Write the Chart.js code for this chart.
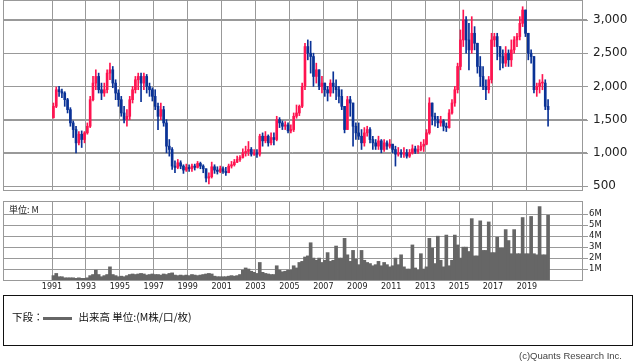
<!DOCTYPE html>
<html>
<head>
<meta charset="utf-8">
<script src="https://cdn.jsdelivr.net/npm/chart.js@4"></script>
<style>
  html, body { margin: 0; width: 638px; height: 362px; overflow: hidden; }
  body { background: #fff; position: relative; }
  canvas { position: absolute; left: 0; }
  #price { top: 0; }
  #volume { top: 196px; }
  #unit { position: absolute; left: 9px; top: 203px; font: 9px "Noto Sans CJK JP", sans-serif; color: #222; }
  #legend { position: absolute; left: 3px; top: 295px; width: 630px; height: 51px; border: 1px solid #111; box-sizing: border-box;
            font: 10.5px "Noto Sans CJK JP", sans-serif; color: #111; }
  #legend .row { position: absolute; left: 8px; top: 13px; white-space: nowrap; }
  #legend .swatch { display: inline-block; width: 29px; height: 3px; background: #666; vertical-align: middle; margin: 0 7px 0 -1px; }
  #credit { position: absolute; right: 16px; top: 350px; font: 9.5px/11px "Liberation Sans Narrow", "Liberation Sans", sans-serif; color: #444; }
</style>
</head>
<body>
<canvas id="price" width="638" height="191"></canvas>
<canvas id="volume" width="638" height="100"></canvas>
<div id="unit">単位: M</div>
<div id="legend"><div class="row">下段：<span class="swatch"></span>出来高 単位:(M株/口/枚)</div></div>
<div id="credit">(c)Quants Research Inc.</div>
<script>
// bimonthly bars, Jan 1991 .. Apr 2020
const firstYear = 1991;
const barsPerYear = 6;
const firstOpen = 1530;

const closes = [
  1700, 1950, 1920, 1900, 1800, 1650, 1450, 1350, 1150, 1280, 1200, 1300,
  1400, 1800, 2050, 2150, 1950, 1900, 1950, 2200, 2250, 2050, 1900, 1800,
  1600, 1500, 1550, 1800, 1950, 2100, 2150, 2050, 2150, 2000, 1950, 1850,
  1700, 1550, 1650, 1450, 1100, 1050, 800, 780, 850, 800, 740, 780,
  760, 800, 780, 840, 800, 760, 620, 640, 790, 740, 720, 760,
  720, 700, 800, 820, 860, 900, 930, 1000, 1020, 1050, 980, 1000,
  980, 1250, 1180, 1250, 1150, 1230, 1200, 1500, 1450, 1400, 1420, 1330,
  1350, 1550, 1600, 1700, 2000, 2600, 2500, 2450, 2150, 2250, 2000, 2050,
  1950, 1900, 2050, 2000, 1950, 1850, 1700, 1350, 1800, 1750, 1400, 1300,
  1250, 1150, 1300, 1350, 1200, 1150, 1100, 1180, 1050, 1150, 1100, 1130,
  1050, 980, 1000, 980, 1000, 950, 1000, 1060, 1020, 1050, 1100, 1130,
  1300, 1750, 1550, 1500, 1450, 1480, 1400, 1380, 1600, 1750, 1950, 2300,
  2700, 3000, 2700, 2550, 2800, 2650, 2300, 2150, 2000, 1950, 2100, 2700,
  2750, 2600, 2450, 2350, 2500, 2400, 2550, 2700, 2750, 2950, 3150, 2800,
  2500, 2450, 1950, 2000, 2050, 2050, 1700, 1650
];

const highs = [
  1750, 1990, 2000, 1960, 1920, 1820, 1680, 1480, 1400, 1320, 1330, 1320,
  1450, 1850, 2150, 2250, 2200, 2050, 2050, 2250, 2350, 2300, 2100, 1950,
  1850, 1700, 1650, 1850, 2000, 2150, 2200, 2200, 2200, 2180, 2050, 1980,
  1950, 1750, 1750, 1700, 1500, 1200, 1080, 880, 900, 880, 820, 830,
  820, 830, 830, 870, 860, 820, 760, 700, 860, 820, 790, 800,
  790, 780, 830, 870, 900, 950, 960, 1060, 1100, 1170, 1080, 1050,
  1050, 1280, 1300, 1320, 1270, 1300, 1300, 1550, 1530, 1480, 1470, 1450,
  1420, 1600, 1720, 1720, 2050, 2650, 2700, 2680, 2500, 2350, 2250, 2150,
  2050, 2000, 2100, 2220, 2100, 2000, 1950, 1700, 1850, 1850, 1750, 1450,
  1450, 1350, 1380, 1400, 1380, 1250, 1200, 1250, 1200, 1200, 1180, 1200,
  1130, 1100, 1080, 1050, 1080, 1050, 1050, 1120, 1100, 1110, 1160, 1200,
  1350, 1830, 1750, 1600, 1550, 1550, 1500, 1450, 1650, 1800, 2000, 2350,
  2850, 3150, 3050, 2950, 3050, 2900, 2650, 2450, 2300, 2100, 2150, 2800,
  2800, 2800, 2600, 2550, 2600, 2550, 2700, 2750, 2800, 3050, 3200, 3150,
  2800, 2550, 2450, 2050, 2100, 2180, 2100, 1800
];

const lows = [
  1520, 1680, 1850, 1830, 1700, 1600, 1400, 1230, 1000, 1120, 1080, 1150,
  1280, 1380, 1780, 1950, 1900, 1800, 1850, 1900, 2100, 1980, 1800, 1700,
  1550, 1450, 1400, 1500, 1750, 1900, 1950, 1770, 1950, 1900, 1850, 1780,
  1650, 1350, 1500, 1400, 1000, 950, 750, 700, 760, 760, 690, 720,
  720, 720, 740, 770, 760, 700, 560, 530, 620, 690, 680, 700,
  690, 660, 700, 770, 800, 850, 870, 920, 950, 960, 950, 960,
  930, 950, 1100, 1150, 1100, 1120, 1120, 1180, 1380, 1350, 1350, 1300,
  1300, 1320, 1520, 1560, 1680, 1950, 2400, 2200, 2000, 2050, 1950, 1900,
  1850, 1780, 1850, 1900, 1800, 1750, 1650, 1300, 1350, 1550, 1100, 1200,
  1200, 1050, 1100, 1250, 1150, 1050, 1050, 1050, 1000, 1020, 1050, 1070,
  1000, 800, 950, 930, 930, 920, 930, 980, 990, 990, 1030, 1020,
  1120, 1280, 1420, 1400, 1380, 1400, 1330, 1320, 1370, 1580, 1700, 1900,
  2250, 2600, 2500, 2250, 2500, 2550, 2200, 2000, 1950, 1800, 1900, 2050,
  2600, 2400, 2250, 2280, 2300, 2300, 2300, 2500, 2600, 2700, 2900, 2750,
  2400, 2350, 1900, 1850, 1900, 1950, 1650, 1400
];

// volume, millions
const volumes = [
  0.4, 0.6, 0.3, 0.3, 0.2, 0.2, 0.2, 0.2, 0.15, 0.2, 0.15, 0.15,
  0.2, 0.4, 0.5, 0.9, 0.5, 0.3, 0.4, 0.5, 1.2, 0.5, 0.4, 0.3,
  0.35, 0.3, 0.4, 0.5, 0.55, 0.5, 0.55, 0.6, 0.55, 0.45, 0.5, 0.55,
  0.5, 0.5, 0.45, 0.55, 0.5, 0.6, 0.65, 0.45, 0.4, 0.45, 0.4, 0.45,
  0.4, 0.5, 0.45, 0.4, 0.45, 0.5, 0.55, 0.6, 0.55, 0.35, 0.3, 0.3,
  0.3, 0.3, 0.35, 0.4, 0.35, 0.4, 0.5, 0.9, 1.1, 1.0, 0.8, 0.7,
  0.6, 1.6, 0.7, 0.6, 0.55, 0.5, 0.5, 1.3, 0.9, 0.75, 0.8, 0.9,
  0.9, 1.3, 1.1, 1.6, 1.7, 2.1, 2.2, 3.4, 2.0, 1.8, 2.0, 1.6,
  1.8, 2.5, 1.7, 1.8, 3.1, 2.0, 2.0, 3.8, 2.3, 1.7, 2.7, 1.9,
  1.4, 2.7, 1.8, 1.6, 1.5, 1.3, 1.4, 1.7, 1.3, 1.6, 1.4, 1.2,
  1.3, 2.0, 1.4, 2.3, 1.2, 1.0, 1.0, 3.2, 1.1, 0.9, 2.4, 1.0,
  1.2, 3.8, 2.9, 1.5, 4.0, 1.8, 1.2, 4.1, 1.3, 1.8, 4.1, 3.2,
  2.0, 3.0, 3.0, 2.6, 5.6, 2.2, 2.2, 5.4, 2.7, 2.7, 5.3, 2.5,
  2.5, 3.9, 2.9, 2.9, 4.6, 3.6, 2.4, 4.6, 2.4, 2.4, 5.7, 2.4,
  2.4, 5.8, 2.4, 2.3, 6.7, 2.3, 2.3, 5.9
];

const yearTicks = [1991, 1993, 1995, 1997, 1999, 2001, 2003, 2005, 2007, 2009, 2011, 2013, 2015, 2017, 2019];
const priceTicks = [500, 1000, 1500, 2000, 2500, 3000];
const volumeTicks = [1, 2, 3, 4, 5, 6];

const upColor = "#ff1450";
const downColor = "#0a3296";
const volumeColor = "#666666";
const gridColor = "#999999";
const xMin = 1988.11, xMax = 2022.25;

const barX = i => firstYear + (i + 0.5) / barsPerYear;
const opens = closes.map((c, i) => (i === 0 ? firstOpen : closes[i - 1]));
const barColors = closes.map((c, i) => (c >= opens[i] ? upColor : downColor));

// plot frame + horizontal grid rows (with short tick marks on the right)
const framePlugin = {
  id: "frame",
  beforeDatasetsDraw(chart) {
    const a = chart.chartArea;
    const ctx = chart.ctx;
    const ys = chart.scales.y;
    const left = Math.round(a.left), right = Math.round(a.right);
    ctx.save();
    ctx.fillStyle = gridColor;
    ys.ticks.forEach(t => {
      const py = Math.round(ys.getPixelForValue(t.value));
      ctx.fillRect(left, py, right - left + 6, 1);
    });
    ctx.strokeStyle = gridColor;
    ctx.lineWidth = 1;
    ctx.strokeRect(left + 0.5, Math.round(a.top) + 0.5, right - left, Math.round(a.bottom - a.top));
    ctx.restore();
  }
};

function yearAxis(showLabels) {
  return {
    type: "linear",
    min: xMin,
    max: xMax,
    offset: false,
    afterBuildTicks: s => { s.ticks = yearTicks.map(v => ({ value: v })); },
    grid: { color: gridColor, drawTicks: false, offset: false },
    border: { display: false },
    ticks: {
      display: showLabels,
      color: "#222",
      padding: 2,
      font: { family: "DejaVu Sans", size: 8 },
      callback: v => String(v),
      maxRotation: 0,
      autoSkip: false
    },
    afterFit: s => {
      s.height = showLabels ? 16 : 0;
      s.paddingLeft = 0;
      s.paddingRight = 0;
    }
  };
}

function valueAxis(min, max, ticks, padding, size, fmt) {
  return {
    position: "right",
    min: min,
    max: max,
    afterBuildTicks: s => { s.ticks = ticks.map(v => ({ value: v })); },
    grid: { color: gridColor, tickLength: 5, offset: false },
    border: { display: false },
    ticks: {
      color: "#222",
      padding: padding - 5,
      font: { family: "DejaVu Sans", size: size },
      callback: fmt
    },
    afterFit: s => {
      s.width = 56;
      s.paddingTop = 0;
      s.paddingBottom = 0;
    }
  };
}

new Chart(document.getElementById("price"), {
  type: "bar",
  data: {
    datasets: [
      {
        label: "high-low",
        data: closes.map((c, i) => ({ x: barX(i), y: [lows[i], highs[i]] })),
        backgroundColor: barColors,
        barThickness: 1,
        grouped: false
      },
      {
        label: "open-close",
        data: closes.map((c, i) => ({ x: barX(i), y: [opens[i], c] })),
        backgroundColor: barColors,
        barThickness: 2,
        minBarLength: 1,
        grouped: false
      }
    ]
  },
  options: {
    responsive: false,
    animation: false,
    layout: { padding: { left: 3, top: 0, right: 0, bottom: 1 } },
    plugins: { legend: { display: false }, tooltip: { enabled: false } },
    scales: {
      x: yearAxis(false),
      y: valueAxis(440, 3301, priceTicks, 11, 12, v => v.toLocaleString("en-US"))
    }
  },
  plugins: [framePlugin]
});

new Chart(document.getElementById("volume"), {
  type: "bar",
  data: {
    datasets: [
      {
        label: "出来高",
        data: volumes.map((v, i) => ({ x: barX(i), y: v })),
        backgroundColor: volumeColor,
        barThickness: 3,
        borderWidth: 0
      }
    ]
  },
  options: {
    responsive: false,
    animation: false,
    layout: { padding: { left: 3, top: 5, right: 0, bottom: 0 } },
    plugins: { legend: { display: false }, tooltip: { enabled: false } },
    scales: {
      x: yearAxis(true),
      y: valueAxis(0, 7.21, volumeTicks, 7, 8.5, v => v + "M")
    }
  },
  plugins: [framePlugin]
});
</script>
</body>
</html>
